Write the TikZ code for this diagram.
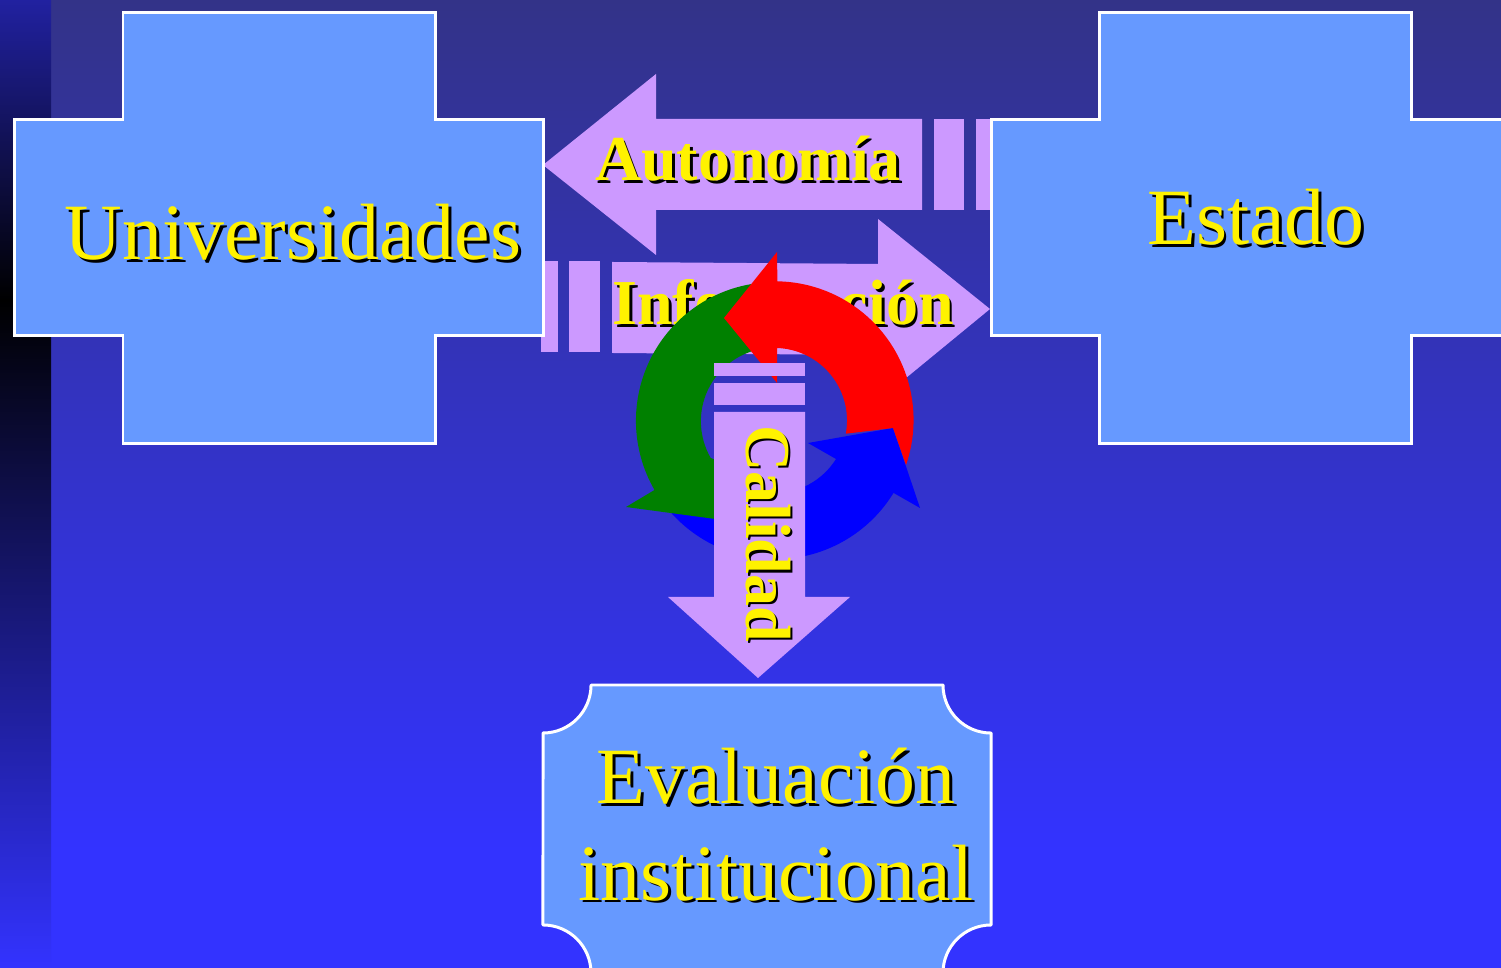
\documentclass[tikz,border=0pt]{standalone}
\usepackage{fontspec}
\setmainfont{Liberation Serif}
\usepackage{tikz}
\usetikzlibrary{calc}

\definecolor{boxblue}{RGB}{102,153,255}
\definecolor{arrowlilac}{RGB}{204,153,255}
\definecolor{bgtop}{RGB}{51,51,136}
\definecolor{bgbottom}{RGB}{51,51,255}
\definecolor{striptop}{RGB}{33,33,160}
\definecolor{cycgreen}{RGB}{0,128,0}

\tikzset{
    bigbox/.style={draw=white, line width=0.85pt, fill=boxblue},
    blockarrow/.style={fill=arrowlilac},
    bigtext/.style={font=\fontsize{22.7}{26}\selectfont, anchor=base, inner sep=0pt},
    boldtext/.style={font=\fontsize{18.2}{22}\selectfont\bfseries, anchor=base, inner sep=0pt}
}

% yellow text with a black copy behind it
\newcommand{\shadowtext}[4]{%
    \node[#2, text=black, xshift=0.028cm, yshift=-0.028cm] (#1-shadow) at #3 {#4};
    \node[#2, text=yellow] (#1) at #3 {#4};
}

\begin{document}
\begin{tikzpicture}[x=0.01cm, y=-0.01cm]
    \clip (0,0) rectangle (1501,968);

    % Background
    \fill[bgbottom] (0,850) rectangle (1501,968);
    \shade[top color=bgtop, bottom color=bgbottom] (51,0) rectangle (1501,850);
    \shade[top color=striptop, bottom color=black] (0,0) rectangle (51,300);
    \shade[top color=black, bottom color=bgbottom] (0,300) rectangle (51,968);

    % Autonomia arrow
    \fill[blockarrow] (543,165) -- (656,74) -- (656,119) -- (922,119) -- (922,210)
        -- (656,210) -- (656,255) -- cycle;
    \fill[blockarrow] (934,119) rectangle (964,210);
    \fill[blockarrow] (976,119) rectangle (992,210);
    \shadowtext{autonomia}{boldtext}{(748,181)}{Autonomía}

    % Informacion arrow
    \fill[blockarrow] (990,309) -- (878,219) -- (878,264) -- (612,262) -- (612,353)
        -- (878,355) -- (878,401) -- cycle;
    \fill[blockarrow] (569,261) rectangle (600,352);
    \fill[blockarrow] (541,261) rectangle (558,352);
    \shadowtext{informacion}{boldtext}{(783,325)}{Información}

    % Universidades box
    \draw[bigbox] (123,13) -- (435,13) -- (435,120) -- (543,120) -- (543,336) -- (435,336)
        -- (435,444) -- (123,444) -- (123,336) -- (14.5,336) -- (14.5,120) -- (123,120) -- cycle;
    \shadowtext{universidades}{bigtext}{(293,260)}{Universidades}

    % Estado box
    \draw[bigbox] (1099,13) -- (1411,13) -- (1411,120) -- (1520,120) -- (1520,336) -- (1411,336)
        -- (1411,444) -- (1099,444) -- (1099,336) -- (991,336) -- (991,120) -- (1099,120) -- cycle;
    \shadowtext{estado}{bigtext}{(1256,245)}{Estado}

    % Evaluacion box
    \draw[bigbox, line join=bevel] (591,685) -- (943,685) arc[start angle=180, end angle=270, radius=0.48cm]
        -- (991,925) arc[start angle=90, end angle=180, radius=0.48cm]
        -- (591,973) arc[start angle=0, end angle=90, radius=0.48cm]
        -- (543,733) arc[start angle=270, end angle=360, radius=0.48cm] -- cycle;
    \shadowtext{evaluacion}{bigtext}{(776,804)}{Evaluación}
    \shadowtext{institucional}{bigtext}{(776,900)}{institucional}

    % Cycle arrows
    \fill[blue] (920,508) -- (893,428) -- (808,443) -- (836,459)
        arc[start angle=-32, end angle=-145, radius=0.726cm]
        -- (661,500) arc[start angle=-145, end angle=-31.5, radius=1.39cm] -- cycle;
    \fill[cycgreen] (626,507) -- (654.5,490)
        arc[start angle=210, end angle=95, radius=1.385cm]
        -- (768,348) arc[start angle=95, end angle=210, radius=0.735cm]
        -- (730,465) -- (745,523) -- cycle;
    \fill[red] (777,252) -- (724,318) -- (777,383) -- (777,348)
        arc[start angle=88, end angle=-10.5, radius=0.725cm]
        -- (893,428) -- (906,465) arc[start angle=-19, end angle=89, radius=1.385cm] -- cycle;

    % Calidad arrow
    \fill[blockarrow] (714,412) -- (805,412) -- (805,597) -- (850,597) -- (758,678)
        -- (668,597) -- (714,597) -- cycle;
    \fill[blockarrow] (714,383) rectangle (805,405);
    \fill[blockarrow] (714,363) rectangle (805,376);
    \node[boldtext, text=black, rotate=-90, anchor=base] (calidad-shadow) at (748.5,536) {Calidad};
    \node[boldtext, text=yellow, rotate=-90, anchor=base] (calidad) at (746,533.5) {Calidad};
\end{tikzpicture}
\end{document}
